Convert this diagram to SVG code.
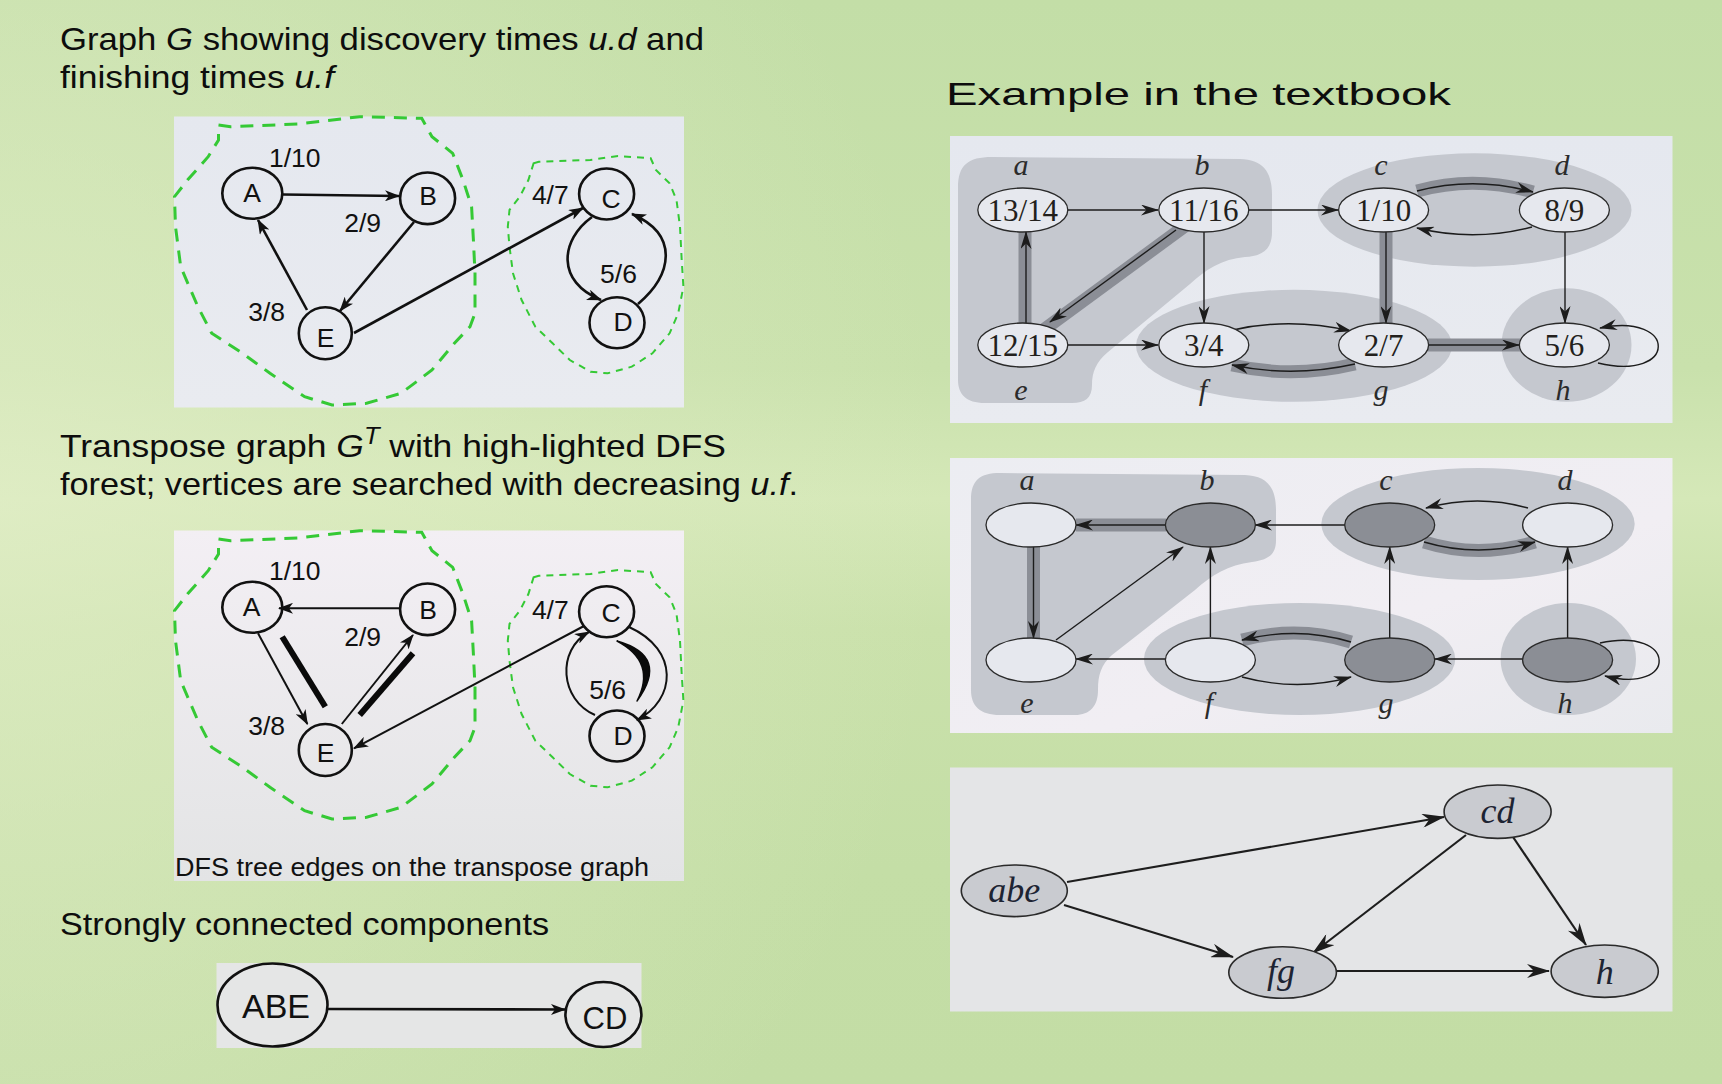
<svg xmlns="http://www.w3.org/2000/svg" width="1722" height="1084" viewBox="0 0 1722 1084">
  <defs>
    <linearGradient id="slideBg" x1="0" y1="0" x2="0" y2="1">
      <stop offset="0" stop-color="#c3dea7"/>
      <stop offset="0.34" stop-color="#c9e1ac"/>
      <stop offset="0.46" stop-color="#d5e8b8"/>
      <stop offset="0.58" stop-color="#cae1ab"/>
      <stop offset="0.8" stop-color="#c4dea6"/>
      <stop offset="1" stop-color="#c3dda5"/>
    </linearGradient>
    <radialGradient id="slideGlow" cx="0" cy="0.47" r="0.55" gradientTransform="scale(1,1.6) translate(0,-0.18)">
      <stop offset="0" stop-color="#e2eec8" stop-opacity="0.7"/>
      <stop offset="1" stop-color="#e2eec8" stop-opacity="0"/>
    </radialGradient>
    <linearGradient id="p1Bg" x1="0" y1="0" x2="0" y2="1">
      <stop offset="0" stop-color="#e5e8ef"/>
      <stop offset="1" stop-color="#e9ebf0"/>
    </linearGradient>
    <linearGradient id="p2Bg" x1="0" y1="0" x2="0" y2="1">
      <stop offset="0" stop-color="#f3eff4"/>
      <stop offset="1" stop-color="#e3e4e5"/>
    </linearGradient>
    <linearGradient id="r1Bg" x1="0" y1="0" x2="0" y2="1">
      <stop offset="0" stop-color="#e5e8ef"/>
      <stop offset="1" stop-color="#e9ebf0"/>
    </linearGradient>
    <linearGradient id="r2Bg" x1="0" y1="0" x2="1" y2="1">
      <stop offset="0" stop-color="#ecedf2"/>
      <stop offset="0.6" stop-color="#f1eef3"/>
      <stop offset="1" stop-color="#e9eaee"/>
    </linearGradient>

    <!-- arrowhead for the hand-drawn left graphs -->
    <marker id="arrL" markerUnits="userSpaceOnUse" markerWidth="15" markerHeight="11" refX="14" refY="5.5" orient="auto">
      <path d="M0,0 L15,5.5 L0,11 L4,5.5 Z" fill="#111"/>
    </marker>
    <!-- narrow barbed arrowhead of the textbook figures -->
    <marker id="arrT" markerUnits="userSpaceOnUse" markerWidth="18" markerHeight="11" refX="17" refY="5.5" orient="auto">
      <path d="M0,0 L18,5.5 L0,11 L5.5,5.5 Z" fill="#1c1c1c"/>
    </marker>
    <marker id="arrT3" markerUnits="userSpaceOnUse" markerWidth="23" markerHeight="14" refX="22" refY="7" orient="auto">
      <path d="M0,0 L23,7 L0,14 L7,7 Z" fill="#1c1c1c"/>
    </marker>

    <!-- dashed component outlines of the left graphs -->
    <path id="blobABE" d="M218.5,125 L230.6,126.7 L297.7,124 L359.7,116.7 L421.7,118.3 L432,136.7 L452.7,153.3 L463,180 L471.6,206.7 L473.4,240 L475,273.3 L475,313.3 L470,326.7 L454.4,343.3 L432,370 L401,393.3 L366.6,403.3 L332,405 L304.6,396.7 L270,373.3 L242.6,353.3 L211.7,333.3 L197.9,306.7 L180.7,266.7 L175.5,226.7 L174.5,196.7 L187.5,180 L208.2,156.7 L218.5,140 Z"/>
    <path id="blobCD" d="M533.6,163.3 L538.8,161.7 L590.4,160 L618,156 L650.7,158.3 L655.9,170 L669.6,183.3 L676.5,200 L680,226.7 L681.7,260 L683.4,286.7 L678.2,313.3 L669.6,333.3 L652.4,353.3 L631.8,366.7 L607.7,373.3 L590.4,371.7 L569.8,360 L552.6,343.3 L535.3,326.7 L521.6,300 L513,273.3 L509.5,246.7 L507.8,226.7 L509.5,210 L519.8,196.7 L528.4,180 Z"/>
  </defs>

  <style>
    .txt { font-family: "Liberation Sans", Arial, sans-serif; fill: #111; }
    .title { font-family: "Liberation Sans", Arial, sans-serif; font-size: 32px; fill: #0d0d0d; }
    .it { font-style: italic; }
    .lbl { font-family: "Liberation Sans", Arial, sans-serif; font-size: 26.5px; fill: #111; text-anchor: middle; }
    .nodeL { fill: none; stroke: #111; stroke-width: 2.6; }
    .edgeL { fill: none; stroke: #111; stroke-width: 2.6; marker-end: url(#arrL); }
    .edgeL2 { fill: none; stroke: #111; stroke-width: 2; marker-end: url(#arrL); }
    .bar { fill: none; stroke: #0a0a0a; stroke-width: 6; }
    .dashBig { fill: none; stroke: #35c935; stroke-width: 3; stroke-dasharray: 13 9; }
    .dashSmall { fill: none; stroke: #35c935; stroke-width: 2; stroke-dasharray: 7 6; }
    .blob { fill: #c5c8cf; }
    .band { fill: none; stroke: #8b8e96; stroke-width: 13; }
    .edgeT { fill: none; stroke: #1c1c1c; stroke-width: 1.4; marker-end: url(#arrT); }
    .edgeT3 { fill: none; stroke: #1e1e1e; stroke-width: 2.2; marker-end: url(#arrT3); }
    .nodeT { fill: #e6e8ee; stroke: #2a2a2a; stroke-width: 1.3; }
    .nodeDark { fill: #8b8e95; stroke: #2a2a2a; stroke-width: 1.3; }
    .nodeR3 { fill: #c9cbd0; stroke: #2a2a2a; stroke-width: 1.6; }
    .num { font-family: "Liberation Serif", "Times New Roman", serif; font-size: 31px; fill: #231f1c; text-anchor: middle; }
    .name { font-family: "Liberation Serif", "Times New Roman", serif; font-size: 30px; font-style: italic; fill: #2b2b2b; text-anchor: middle; }
    .nameR3 { font-family: "Liberation Serif", "Times New Roman", serif; font-size: 36px; font-style: italic; fill: #1d2433; text-anchor: middle; }
  </style>

  <!-- slide background -->
  <rect x="0" y="0" width="1722" height="1084" fill="url(#slideBg)"/>
  <rect x="0" y="0" width="1722" height="1084" fill="url(#slideGlow)"/>

  <!-- left column headings -->
  <g id="headings">
    <text class="title" x="60" y="50" textLength="644" lengthAdjust="spacingAndGlyphs">Graph <tspan class="it">G</tspan> showing discovery times <tspan class="it">u.d</tspan> and</text>
    <text class="title" x="60" y="88" textLength="274" lengthAdjust="spacingAndGlyphs">finishing times <tspan class="it">u.f</tspan></text>
    <text class="title" x="60" y="457" textLength="666" lengthAdjust="spacingAndGlyphs">Transpose graph <tspan class="it">G</tspan><tspan class="it" font-size="23" dy="-13">T</tspan><tspan dy="13"> with high-lighted DFS</tspan></text>
    <text class="title" x="60" y="495" textLength="738" lengthAdjust="spacingAndGlyphs">forest; vertices are searched with decreasing <tspan class="it">u.f</tspan>.</text>
    <text class="title" x="60" y="935" textLength="489" lengthAdjust="spacingAndGlyphs">Strongly connected components</text>
    <text class="title" x="946" y="105" font-size="50" textLength="505" lengthAdjust="spacingAndGlyphs">Example in the textbook</text>
  </g>

  <!-- ===== Graph G with discovery / finishing times ===== -->
  <g id="panelG">
    <rect x="174" y="116.5" width="510" height="291" fill="url(#p1Bg)"/>
    <use href="#blobABE" class="dashBig"/>
    <use href="#blobCD" class="dashSmall"/>
    <g id="g-connectors">
      <path class="edgeL" d="M283,194.5 L399,196"/>
      <path class="edgeL" d="M414,222 L340,311"/>
      <path class="edgeL" d="M307,310 L258,220"/>
      <path class="edgeL" d="M354,333 L583,208"/>
      <path class="edgeL" d="M592,217 C560,240 556,282 601,300"/>
      <path class="edgeL" d="M638,304 C672,275 680,235 632,214"/>
    </g>
    <g id="g-A"><ellipse class="nodeL" cx="252.3" cy="193.3" rx="30" ry="25.5"/><text class="lbl" x="252" y="202" font-size="27">A</text></g>
    <g id="g-B"><ellipse class="nodeL" cx="427.6" cy="198.3" rx="27.5" ry="25.8"/><text class="lbl" x="428" y="205" font-size="27">B</text></g>
    <g id="g-C"><ellipse class="nodeL" cx="606.6" cy="194" rx="27.5" ry="25.5"/><text class="lbl" x="611" y="207.5" font-size="27">C</text></g>
    <g id="g-D"><ellipse class="nodeL" cx="617" cy="322.7" rx="27.5" ry="25.5"/><text class="lbl" x="623" y="331" font-size="27">D</text></g>
    <g id="g-E"><ellipse class="nodeL" cx="325.3" cy="333.3" rx="26.5" ry="26"/><text class="lbl" x="325.5" y="346.5" font-size="27">E</text></g>
    <text class="lbl" x="294.7" y="167">1/10</text>
    <text class="lbl" x="362.7" y="232">2/9</text>
    <text class="lbl" x="266.6" y="321">3/8</text>
    <text class="lbl" x="550.3" y="203.5">4/7</text>
    <text class="lbl" x="618.5" y="283">5/6</text>
  </g>

  <!-- ===== Transpose graph with DFS forest ===== -->
  <g id="panelGT">
    <rect x="174" y="530.5" width="510" height="350.5" fill="url(#p2Bg)"/>
    <use href="#blobABE" class="dashBig" transform="translate(0,414)"/>
    <use href="#blobCD" class="dashSmall" transform="translate(0,414)"/>
    <g id="gt-connectors">
      <path class="edgeL2" d="M400,608.3 L279,608.3"/>
      <path class="edgeL2" d="M258,633.3 L307.4,724"/>
      <path class="edgeL2" d="M341.8,724 L413,635"/>
      <path class="edgeL2" d="M584,626 L354,748.3"/>
      <path class="edgeL2" d="M595,715 C560,700 556,650 589,632"/>
      <path class="edgeL2" d="M629,627 C680,650 676,700 637,720"/>
      <path class="bar" d="M282.2,636.7 L325.3,706.7"/>
      <path class="bar" d="M359.7,715 L413,653.3"/>
      <path d="M617,641 Q670,656 637,701 Q657,662 617,641 Z" fill="#0a0a0a" stroke="#0a0a0a" stroke-width="1.5" stroke-linejoin="round"/>
    </g>
    <g id="gt-A"><ellipse class="nodeL" cx="252.3" cy="607.3" rx="30" ry="25.5"/><text class="lbl" x="251.5" y="615.5" font-size="27">A</text></g>
    <g id="gt-B"><ellipse class="nodeL" cx="427.6" cy="609.3" rx="27.5" ry="25.8"/><text class="lbl" x="428" y="618.5" font-size="27">B</text></g>
    <g id="gt-C"><ellipse class="nodeL" cx="606.6" cy="611.7" rx="27.5" ry="25.5"/><text class="lbl" x="611" y="621.5" font-size="27">C</text></g>
    <g id="gt-D"><ellipse class="nodeL" cx="617" cy="736" rx="27.5" ry="25.5"/><text class="lbl" x="623" y="744.5" font-size="27">D</text></g>
    <g id="gt-E"><ellipse class="nodeL" cx="325.3" cy="750" rx="26.5" ry="26"/><text class="lbl" x="325.5" y="761.5" font-size="27">E</text></g>
    <text class="lbl" x="294.7" y="580">1/10</text>
    <text class="lbl" x="362.7" y="646">2/9</text>
    <text class="lbl" x="266.6" y="735">3/8</text>
    <text class="lbl" x="550.3" y="618.5">4/7</text>
    <text class="lbl" x="607.7" y="698.5">5/6</text>
    <text class="txt" x="175" y="876" font-size="26" textLength="474" lengthAdjust="spacingAndGlyphs">DFS tree edges on the transpose graph</text>
  </g>

  <!-- ===== component graph ===== -->
  <g id="panelSCC">
    <rect x="216.5" y="963" width="425" height="85" fill="#e5e6e6"/>
    <g id="scc-connectors">
      <path d="M328,1009 L565,1009.5" fill="none" stroke="#111" stroke-width="2.6" marker-end="url(#arrL)"/>
    </g>
    <g id="scc-ABE"><ellipse class="nodeL" cx="272.5" cy="1005" rx="55" ry="41.5" stroke-width="2.2"/><text class="txt" x="276" y="1018" font-size="34" text-anchor="middle">ABE</text></g>
    <g id="scc-CD"><ellipse class="nodeL" cx="603.4" cy="1014.5" rx="38" ry="32.5" stroke-width="2.2"/><text class="txt" x="605" y="1029" font-size="31" text-anchor="middle">CD</text></g>
  </g>

  <!-- ===== textbook figure (a): G with u.d/u.f ===== -->
  <g id="textbookA">
    <rect x="950" y="136" width="722.5" height="287" fill="url(#r1Bg)"/>
    <g id="ta-regions">
      <path class="blob" d="M958,188 C958,165 968,157 992,157 L1240,159 C1262,160 1272,170 1272,195 L1272,232 C1272,250 1262,256 1245,257 C1222,259 1205,270 1190,284 L1108,352 C1096,362 1092,372 1092,385 C1092,398 1085,403 1072,403 L985,403 C966,403 958,394 958,380 Z"/>
      <ellipse class="blob" cx="1474.5" cy="210" rx="157" ry="56.7"/>
      <ellipse class="blob" cx="1294" cy="345.8" rx="158" ry="56"/>
      <ellipse class="blob" cx="1566.5" cy="345" rx="65" ry="56.7"/>
    </g>
    <g id="ta-connectors">
      <path class="band" d="M1025,323 L1025,232" stroke-width="15"/>
      <path class="band" d="M1185,226 L1042,331" stroke-width="16"/>
      <path class="band" d="M1417,191 Q1474,175 1533,192"/>
      <path class="band" d="M1386,232 L1386,323"/>
      <path class="band" d="M1355,364 Q1292,379 1232,365"/>
      <path class="band" d="M1428,345 L1520,345"/>
      <path class="edgeT" d="M1068,210 L1158,210"/>
      <path class="edgeT" d="M1249,210 L1338,210"/>
      <path class="edgeT" d="M1068,345 L1158,345"/>
      <path class="edgeT" d="M1204,232 L1204,323"/>
      <path class="edgeT" d="M1026,323 L1026,232"/>
      <path class="edgeT" d="M1176,230 L1050,322"/>
      <path class="edgeT" d="M1417,191 Q1474,176 1533,192"/>
      <path class="edgeT" d="M1532,227 Q1474,242 1417,228"/>
      <path class="edgeT" d="M1386,232 L1386,323"/>
      <path class="edgeT" d="M1565,232 L1565,323"/>
      <path class="edgeT" d="M1233,330 Q1290,317 1351,331"/>
      <path class="edgeT" d="M1355,364 Q1292,378 1232,365"/>
      <path class="edgeT" d="M1428,345 L1519,345"/>
      <path class="edgeT" d="M1598,363 C1678,382 1678,312 1600,328"/>
    </g>
    <g id="ta-a"><ellipse class="nodeT" cx="1022.8" cy="210" rx="45" ry="22"/><text class="num" x="1022.8" y="221">13/14</text><text class="name" x="1021" y="175">a</text></g>
    <g id="ta-b"><ellipse class="nodeT" cx="1203.8" cy="210" rx="45" ry="22"/><text class="num" x="1203.8" y="221">11/16</text><text class="name" x="1202" y="175">b</text></g>
    <g id="ta-c"><ellipse class="nodeT" cx="1383.6" cy="210" rx="45" ry="22"/><text class="num" x="1383.6" y="221">1/10</text><text class="name" x="1381" y="175">c</text></g>
    <g id="ta-d"><ellipse class="nodeT" cx="1564.4" cy="210" rx="45" ry="22"/><text class="num" x="1564.4" y="221">8/9</text><text class="name" x="1562" y="175">d</text></g>
    <g id="ta-e"><ellipse class="nodeT" cx="1022.8" cy="345" rx="45" ry="22"/><text class="num" x="1022.8" y="356">12/15</text><text class="name" x="1021" y="400">e</text></g>
    <g id="ta-f"><ellipse class="nodeT" cx="1203.8" cy="345" rx="45" ry="22"/><text class="num" x="1203.8" y="356">3/4</text><text class="name" x="1203" y="400">f</text></g>
    <g id="ta-g"><ellipse class="nodeT" cx="1383.6" cy="345" rx="45" ry="22"/><text class="num" x="1383.6" y="356">2/7</text><text class="name" x="1381" y="400">g</text></g>
    <g id="ta-h"><ellipse class="nodeT" cx="1564.4" cy="345" rx="45" ry="22"/><text class="num" x="1564.4" y="356">5/6</text><text class="name" x="1563" y="400">h</text></g>
  </g>

  <!-- ===== textbook figure (b): transpose with DFS forest ===== -->
  <g id="textbookB">
    <rect x="950" y="458" width="722.5" height="275" fill="url(#r2Bg)"/>
    <g id="tb-regions">
      <path class="blob" d="M971,500 C971,480 980,473 1000,473 L1245,475 C1266,476 1276,486 1276,510 L1276,540 C1276,555 1268,560 1252,562 C1228,565 1212,575 1195,590 L1112,655 C1101,665 1098,675 1098,690 C1098,706 1090,715 1075,715 L1000,715 C980,715 971,706 971,690 Z"/>
      <ellipse class="blob" cx="1478" cy="524" rx="156.7" ry="56"/>
      <ellipse class="blob" cx="1299.6" cy="659" rx="155.7" ry="56"/>
      <ellipse class="blob" cx="1568.3" cy="659" rx="67.7" ry="56"/>
    </g>
    <g id="tb-connectors">
      <path class="band" d="M1166,525 L1076,525"/>
      <path class="band" d="M1033.5,547 L1033.5,638" stroke-width="12"/>
      <path class="band" d="M1424,542 Q1478,559 1535,542"/>
      <path class="band" d="M1351,642 Q1298,625 1242,640"/>
      <path class="edgeT" d="M1166,525 L1076,525"/>
      <path class="edgeT" d="M1033.5,547 L1033.5,638"/>
      <path class="edgeT" d="M1056,640 L1183,547"/>
      <path class="edgeT" d="M1210.4,637 L1210.4,547"/>
      <path class="edgeT" d="M1166,659 L1076,659"/>
      <path class="edgeT" d="M1345,525 L1255,525"/>
      <path class="edgeT" d="M1528,508 Q1478,494 1426,508"/>
      <path class="edgeT" d="M1424,542 Q1478,558 1535,542"/>
      <path class="edgeT" d="M1389.7,638 L1389.7,547"/>
      <path class="edgeT" d="M1567.6,638 L1567.6,547"/>
      <path class="edgeT" d="M1351,642 Q1298,626 1242,640"/>
      <path class="edgeT" d="M1242,677 Q1298,692 1351,677"/>
      <path class="edgeT" d="M1523,659 L1435,659"/>
      <path class="edgeT" d="M1600,643 C1678,626 1678,695 1605,676"/>
    </g>
    <g id="tb-a"><ellipse class="nodeT" cx="1031" cy="525" rx="45" ry="22"/><text class="name" x="1027" y="490">a</text></g>
    <g id="tb-b"><ellipse class="nodeDark" cx="1210.4" cy="525" rx="45" ry="22"/><text class="name" x="1207" y="490">b</text></g>
    <g id="tb-c"><ellipse class="nodeDark" cx="1389.7" cy="525" rx="45" ry="22"/><text class="name" x="1386" y="490">c</text></g>
    <g id="tb-d"><ellipse class="nodeT" cx="1567.6" cy="525" rx="45" ry="22"/><text class="name" x="1565" y="490">d</text></g>
    <g id="tb-e"><ellipse class="nodeT" cx="1031" cy="660" rx="45" ry="22"/><text class="name" x="1027" y="713">e</text></g>
    <g id="tb-f"><ellipse class="nodeT" cx="1210.4" cy="660" rx="45" ry="22"/><text class="name" x="1209" y="713">f</text></g>
    <g id="tb-g"><ellipse class="nodeDark" cx="1389.7" cy="660" rx="45" ry="22"/><text class="name" x="1386" y="713">g</text></g>
    <g id="tb-h"><ellipse class="nodeDark" cx="1567.6" cy="660" rx="45" ry="22"/><text class="name" x="1565" y="713">h</text></g>
  </g>

  <!-- ===== textbook figure (c): component graph ===== -->
  <g id="textbookC">
    <rect x="950" y="767.5" width="722.5" height="244" fill="#e4e5e7"/>
    <g id="tc-connectors">
      <path class="edgeT3" d="M1067,882 L1444,817"/>
      <path class="edgeT3" d="M1064,905 L1233,957"/>
      <path class="edgeT3" d="M1466,835 L1313,953"/>
      <path class="edgeT3" d="M1513,837 L1586,945"/>
      <path class="edgeT3" d="M1336,971 L1549,971"/>
    </g>
    <g id="tc-abe"><ellipse class="nodeR3" cx="1014.3" cy="890.8" rx="53" ry="25.8"/><text class="nameR3" x="1014.3" y="902">abe</text></g>
    <g id="tc-cd"><ellipse class="nodeR3" cx="1497.6" cy="811.7" rx="53.5" ry="26.7"/><text class="nameR3" x="1497.6" y="823">cd</text></g>
    <g id="tc-fg"><ellipse class="nodeR3" cx="1282.6" cy="972.5" rx="53.8" ry="25.8"/><text class="nameR3" x="1281" y="983">fg</text></g>
    <g id="tc-h"><ellipse class="nodeR3" cx="1604.7" cy="971.2" rx="53.6" ry="26.2"/><text class="nameR3" x="1604.7" y="984">h</text></g>
  </g>
</svg>
